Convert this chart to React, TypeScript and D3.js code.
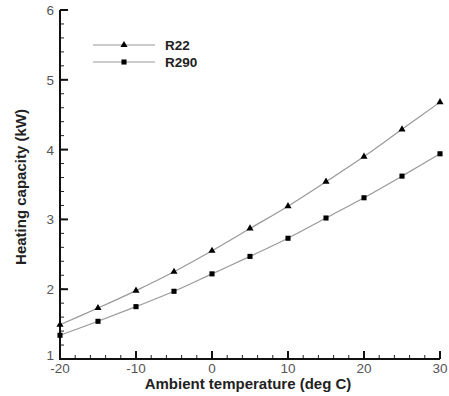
import * as d3 from 'd3';

const temps = [-20, -15, -10, -5, 0, 5, 10, 15, 20, 25, 30];
const r22 = [1.49, 1.73, 1.98, 2.25, 2.55, 2.87, 3.19, 3.54, 3.9, 4.29, 4.68];
const r290 = [1.34, 1.54, 1.75, 1.97, 2.22, 2.47, 2.73, 3.02, 3.31, 3.62, 3.94];
const xTicks = [-20, -10, 0, 10, 20, 30];
const yTicks = [1, 2, 3, 4, 5, 6];

const FONT = 'Liberation Sans, Arial, sans-serif';

// page coordinates (svg pinned to the top-left corner of the page)
const margin = { top: 10, left: 60 };
const innerW = 380;
const innerH = 349;

const x = d3.scaleLinear().domain([-20, 30]).range([0, innerW]);
const y = d3.scaleLinear().domain([1, 6]).range([innerH, 0]);

const xMinor = d3.range(-20, 30.01, 2);
const yMinor = d3.range(1, 6.01, 0.2);

const series = [
  { name: 'R22', values: r22, marker: d3.symbolTriangle, size: 22 },
  { name: 'R290', values: r290, marker: d3.symbolSquare, size: 26 },
];

const lineGen = d3
  .line<number>()
  .x((_, i) => x(temps[i]))
  .y((d) => y(d))
  .curve(d3.curveCatmullRom);

export default function App() {
  return (
    <svg width={449} height={396} style={{ position: 'absolute', left: 0, top: 0, display: 'block' }}>
      <rect width={449} height={396} fill="#fff" />
      <g transform={`translate(${margin.left},${margin.top})`}>
        {xMinor.map((d) => (
          <line key={`xm${d}`} x1={x(d)} x2={x(d)} y1={innerH} y2={innerH - 4} stroke="#222" strokeWidth={1} />
        ))}
        {yMinor.map((d) => (
          <line key={`ym${d}`} x1={0} x2={4} y1={y(d)} y2={y(d)} stroke="#222" strokeWidth={1} />
        ))}
        {xTicks.map((d) => (
          <line key={`xM${d}`} x1={x(d)} x2={x(d)} y1={innerH} y2={innerH - 8} stroke="#111" strokeWidth={2} />
        ))}
        {yTicks.map((d) => (
          <line key={`yM${d}`} x1={0} x2={8} y1={y(d)} y2={y(d)} stroke="#111" strokeWidth={2} />
        ))}
        <path d={`M0,0V${innerH}H${innerW}`} fill="none" stroke="#111" strokeWidth={2} />

        {xTicks.map((d) => (
          <text key={`xl${d}`} x={x(d)} y={innerH + 14} textAnchor="middle" fontFamily={FONT} fontSize={13.5} fill="#555">
            {d}
          </text>
        ))}
        {yTicks.map((d) => (
          <text key={`yl${d}`} x={-6} y={y(d) + (d === 1 ? 1 : 5)} textAnchor="end" fontFamily={FONT} fontSize={13.5} fill="#555">
            {d}
          </text>
        ))}

        {series.map((s) => (
          <g key={s.name}>
            <path d={lineGen(s.values) ?? ''} fill="none" stroke="#999" strokeWidth={1.2} />
            {s.values.map((v, i) => (
              <path
                key={i}
                d={d3.symbol(s.marker, s.size)() ?? ''}
                transform={`translate(${x(temps[i])},${y(v)})`}
                fill="#000"
              />
            ))}
          </g>
        ))}
      </g>

      <text x={248} y={389} textAnchor="middle" fontFamily={FONT} fontWeight="bold" fontSize={15} fill="#222">
        Ambient temperature (deg C)
      </text>
      <text transform="translate(26,187) rotate(-90)" textAnchor="middle" fontFamily={FONT} fontWeight="bold" fontSize={15} fill="#222">
        Heating capacity (kW)
      </text>

      {series.map((s, i) => (
        <g key={`lg${s.name}`} transform={`translate(93,${45 + i * 17})`}>
          <line x1={0} x2={62} y1={0} y2={0} stroke="#999" strokeWidth={1.2} />
          <path d={d3.symbol(s.marker, s.size)() ?? ''} transform="translate(31,0)" fill="#000" />
          <text x={72} y={5} fontFamily={FONT} fontWeight="bold" fontSize={13.5} fill="#222">
            {s.name}
          </text>
        </g>
      ))}
    </svg>
  );
}
